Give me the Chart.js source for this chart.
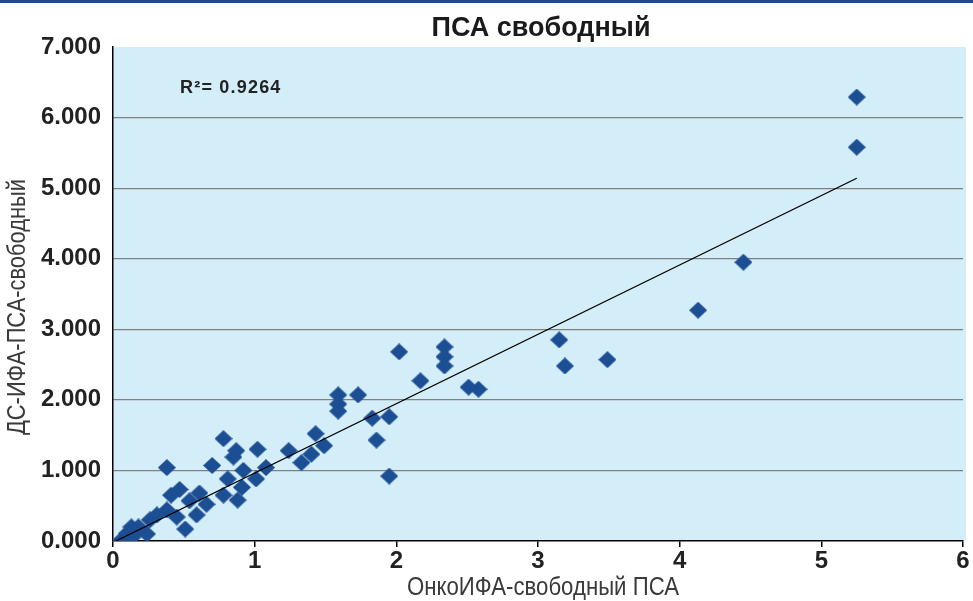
<!DOCTYPE html>
<html>
<head>
<meta charset="utf-8">
<script src="https://cdn.jsdelivr.net/npm/chart.js@4.4.1/dist/chart.umd.min.js"></script>
<style>
  body { margin: 0; background: #fff; }
  #wrap { width: 973px; height: 601px; position: relative; }
</style>
</head>
<body>
<div id="wrap"><canvas id="psaChart"></canvas></div>
<script>
// values
var onkoX = [5.25, 5.25, 4.45, 4.13, 3.49, 3.15, 3.19, 2.58, 2.51, 2.34, 2.34, 2.34, 2.02, 2.17,
             1.73, 1.59, 1.59, 1.59, 1.83, 1.95, 1.86, 1.95, 1.43, 1.49, 1.40, 1.33, 1.24,
             0.78, 0.87, 0.85, 1.02, 0.70, 0.38, 0.92, 1.08, 1.01, 0.81, 0.91, 0.78, 0.88,
             0.47, 0.41, 0.61, 0.54, 0.66, 0.38, 0.45, 0.59, 0.51, 0.31, 0.26, 0.24, 0.13,
             0.18, 0.10, 0.14, 0.05, 0.08];
var dsY   = [6.29, 5.58, 3.95, 3.27, 2.57, 2.85, 2.48, 2.15, 2.18, 2.75, 2.61, 2.48, 2.68, 2.27,
             2.07, 2.07, 1.94, 1.84, 1.74, 1.76, 1.43, 0.92, 1.52, 1.35, 1.23, 1.11, 1.28,
             1.45, 1.28, 1.19, 1.30, 1.07, 1.04, 1.00, 1.04, 0.88, 0.88, 0.76, 0.65, 0.58,
             0.73, 0.65, 0.68, 0.57, 0.52, 0.44, 0.34, 0.37, 0.17, 0.37, 0.30, 0.10, 0.20,
             0.20, 0.11, 0.06, 0.00, 0.00];
var trendX = [0.02, 5.25];
var trendY = [0.00, 5.14];
var xTicks = [0, 1, 2, 3, 4, 5, 6];
var yTicks = [0, 1, 2, 3, 4, 5, 6, 7];

var chartTitle = 'ПСА свободный';
var xTitle = 'ОнкоИФА-свободный ПСА';
var yTitle = 'ДС-ИФА-ПСА-свободный';
var r2Label = 'R²= 0.9264';

var pts = onkoX.map(function(x, i) { return {x: x, y: dsY[i]}; });
var trend = trendX.map(function(x, i) { return {x: x, y: trendY[i]}; });

// diamond marker, slightly flatter than square
var dia = document.createElement('canvas');
dia.width = 18; dia.height = 17;
var dctx = dia.getContext('2d');
dctx.fillStyle = '#1b4e92';
dctx.beginPath();
dctx.moveTo(9, 0); dctx.lineTo(18, 8.5); dctx.lineTo(9, 17); dctx.lineTo(0, 8.5);
dctx.closePath(); dctx.fill();

// condensed text: squeeze a normal face to the wanted width
function narrowText(c, txt, x, y, font, w, rot) {
  c.save();
  c.font = font;
  c.translate(x, y);
  if (rot) c.rotate(rot);
  c.scale(w / c.measureText(txt).width, 1);
  c.textAlign = 'center';
  c.textBaseline = 'middle';
  c.fillText(txt, 0, 0);
  c.restore();
}

var decor = {
  id: 'decor',
  beforeDraw: function(chart) {
    var c = chart.ctx, a = chart.chartArea;
    c.save();
    c.fillStyle = '#1d4b8d';
    c.fillRect(0, 0, chart.width, 3);
    c.fillStyle = '#d4eef9';
    c.fillRect(a.left, a.top, a.right - a.left + 3, a.bottom - a.top);
    c.restore();
  },
  afterDraw: function(chart) {
    var c = chart.ctx;
    c.fillStyle = '#1a1a1a';
    narrowText(c, chartTitle, 541, 28, 'bold 28px "Liberation Sans"', 219);
    c.fillStyle = '#3a3a3a';
    narrowText(c, xTitle, 543, 588, '25px "Liberation Sans"', 272);
    narrowText(c, yTitle, 18, 307, '25px "Liberation Sans"', 256, -Math.PI / 2);
    c.save();
    c.fillStyle = '#222';
    c.textAlign = 'left';
    c.textBaseline = 'middle';
    c.font = 'bold 18px "Liberation Sans"';
    c.letterSpacing = '1.2px';
    c.fillText(r2Label, 180, 88);
    c.restore();
  }
};

new Chart(document.getElementById('psaChart'), {
  type: 'scatter',
  data: {
    datasets: [{
      data: trend,
      showLine: true,
      borderColor: '#000',
      borderWidth: 1.3,
      pointRadius: 0
    }, {
      data: pts,
      pointStyle: dia,
      pointRadius: 9,
      backgroundColor: '#1b4e92'
    }]
  },
  options: {
    responsive: true,
    maintainAspectRatio: false,
    animation: false,
    layout: { padding: { left: 0, top: 47, right: 10, bottom: 0 } },
    plugins: { legend: { display: false }, tooltip: { enabled: false } },
    scales: {
      x: {
        type: 'linear', min: 0, max: 6,
        afterBuildTicks: function(s) { s.ticks = xTicks.map(function(v) { return {value: v}; }); },
        afterFit: function(s) { s.height = 60; },
        border: { color: '#000', width: 1.5 },
        grid: { drawOnChartArea: false, color: '#000', tickLength: 6, lineWidth: 1.5 },
        ticks: { color: '#222', padding: 0, font: { family: 'Liberation Sans', weight: 'bold', size: 24 } }
      },
      y: {
        type: 'linear', min: 0, max: 7,
        afterBuildTicks: function(s) { s.ticks = yTicks.map(function(v) { return {value: v}; }); },
        afterFit: function(s) { s.width = 113; },
        border: { color: '#000', width: 1.5 },
        grid: {
          drawTicks: false,
          color: function(ctx) { var v = ctx.tick.value; return (v === 0 || v === 7) ? 'rgba(0,0,0,0)' : '#808080'; },
          lineWidth: 1.2
        },
        ticks: { color: '#222', padding: 12,
                 font: { family: 'Liberation Sans', weight: 'bold', size: 24 },
                 callback: function(v) { return v.toFixed(3); } }
      }
    }
  },
  plugins: [decor]
});
</script>
</body>
</html>
